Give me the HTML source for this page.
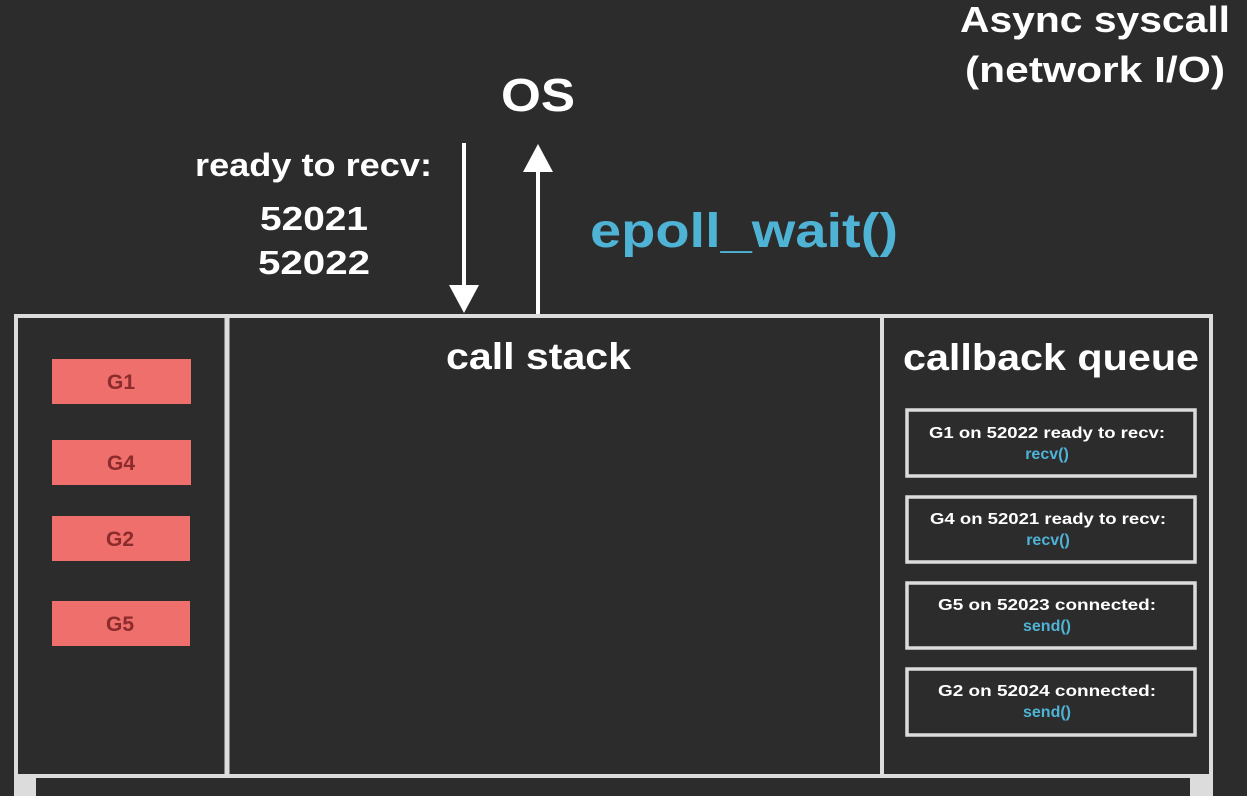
<!DOCTYPE html>
<html><head><style>
html,body{margin:0;padding:0;background:#2c2c2c;width:1247px;height:796px;overflow:hidden}
svg{display:block}
text{font-family:"Liberation Sans",sans-serif;font-weight:bold}
</style></head><body>
<svg width="1247" height="796" viewBox="0 0 1247 796" xmlns="http://www.w3.org/2000/svg">
<rect width="1247" height="796" fill="#2c2c2c"/>
<text x="960" y="32" font-size="36" fill="#fff" textLength="270" lengthAdjust="spacingAndGlyphs">Async syscall</text>
<text x="965" y="82" font-size="36" fill="#fff" textLength="260" lengthAdjust="spacingAndGlyphs">(network I/O)</text>
<text x="501" y="111" font-size="46" fill="#fff" textLength="74" lengthAdjust="spacingAndGlyphs">OS</text>
<text x="195" y="176" font-size="32" fill="#fff" textLength="237" lengthAdjust="spacingAndGlyphs">ready to recv:</text>
<text x="260" y="230" font-size="33" fill="#fff" textLength="108" lengthAdjust="spacingAndGlyphs">52021</text>
<text x="258" y="274" font-size="33" fill="#fff" textLength="112" lengthAdjust="spacingAndGlyphs">52022</text>
<text x="590" y="247" font-size="48" fill="#4fb3d6" textLength="308" lengthAdjust="spacingAndGlyphs">epoll_wait()</text>
<line x1="464" y1="143" x2="464" y2="290" stroke="#fff" stroke-width="4"/>
<polygon points="449,285 479,285 464,313" fill="#fff"/>
<line x1="538" y1="170" x2="538" y2="315" stroke="#fff" stroke-width="4"/>
<polygon points="523,172 553,172 538,144" fill="#fff"/>
<rect x="16" y="316" width="1195" height="460" fill="none" stroke="#dcdcdc" stroke-width="4"/>
<line x1="227" y1="316" x2="227" y2="776" stroke="#dcdcdc" stroke-width="5"/>
<line x1="882" y1="316" x2="882" y2="776" stroke="#dcdcdc" stroke-width="4"/>
<rect x="14" y="777" width="22" height="19" fill="#dcdcdc"/>
<rect x="1190" y="777" width="23" height="19" fill="#dcdcdc"/>
<text x="446" y="369" font-size="37" fill="#fff" textLength="185" lengthAdjust="spacingAndGlyphs">call stack</text>
<text x="903" y="370" font-size="37" fill="#fff" textLength="296" lengthAdjust="spacingAndGlyphs">callback queue</text>
<g font-size="21" fill="#8c2b2b" text-anchor="middle">
<rect x="52" y="359" width="139" height="45" fill="#ee6f6b"/><text x="121" y="389">G1</text>
<rect x="52" y="440" width="139" height="45" fill="#ee6f6b"/><text x="121" y="470">G4</text>
<rect x="52" y="516" width="138" height="45" fill="#ee6f6b"/><text x="120" y="546">G2</text>
<rect x="52" y="601" width="138" height="45" fill="#ee6f6b"/><text x="120" y="631">G5</text>
</g>
<g fill="none" stroke="#dcdcdc" stroke-width="3.5">
<rect x="907" y="410" width="288" height="66"/>
<rect x="907" y="497" width="288" height="65"/>
<rect x="907" y="583" width="288" height="65"/>
<rect x="907" y="669" width="288" height="66"/>
</g>
<g font-size="16" text-anchor="middle" lengthAdjust="spacingAndGlyphs">
<text x="1047" y="438" fill="#fff" textLength="236" lengthAdjust="spacingAndGlyphs">G1 on 52022 ready to recv:</text><text x="1047" y="459" fill="#4fb3d6">recv()</text>
<text x="1048" y="524" fill="#fff" textLength="236" lengthAdjust="spacingAndGlyphs">G4 on 52021 ready to recv:</text><text x="1048" y="545" fill="#4fb3d6">recv()</text>
<text x="1047" y="610" fill="#fff" textLength="218" lengthAdjust="spacingAndGlyphs">G5 on 52023 connected:</text><text x="1047" y="631" fill="#4fb3d6">send()</text>
<text x="1047" y="696" fill="#fff" textLength="218" lengthAdjust="spacingAndGlyphs">G2 on 52024 connected:</text><text x="1047" y="717" fill="#4fb3d6">send()</text>
</g>
</svg>
</body></html>
